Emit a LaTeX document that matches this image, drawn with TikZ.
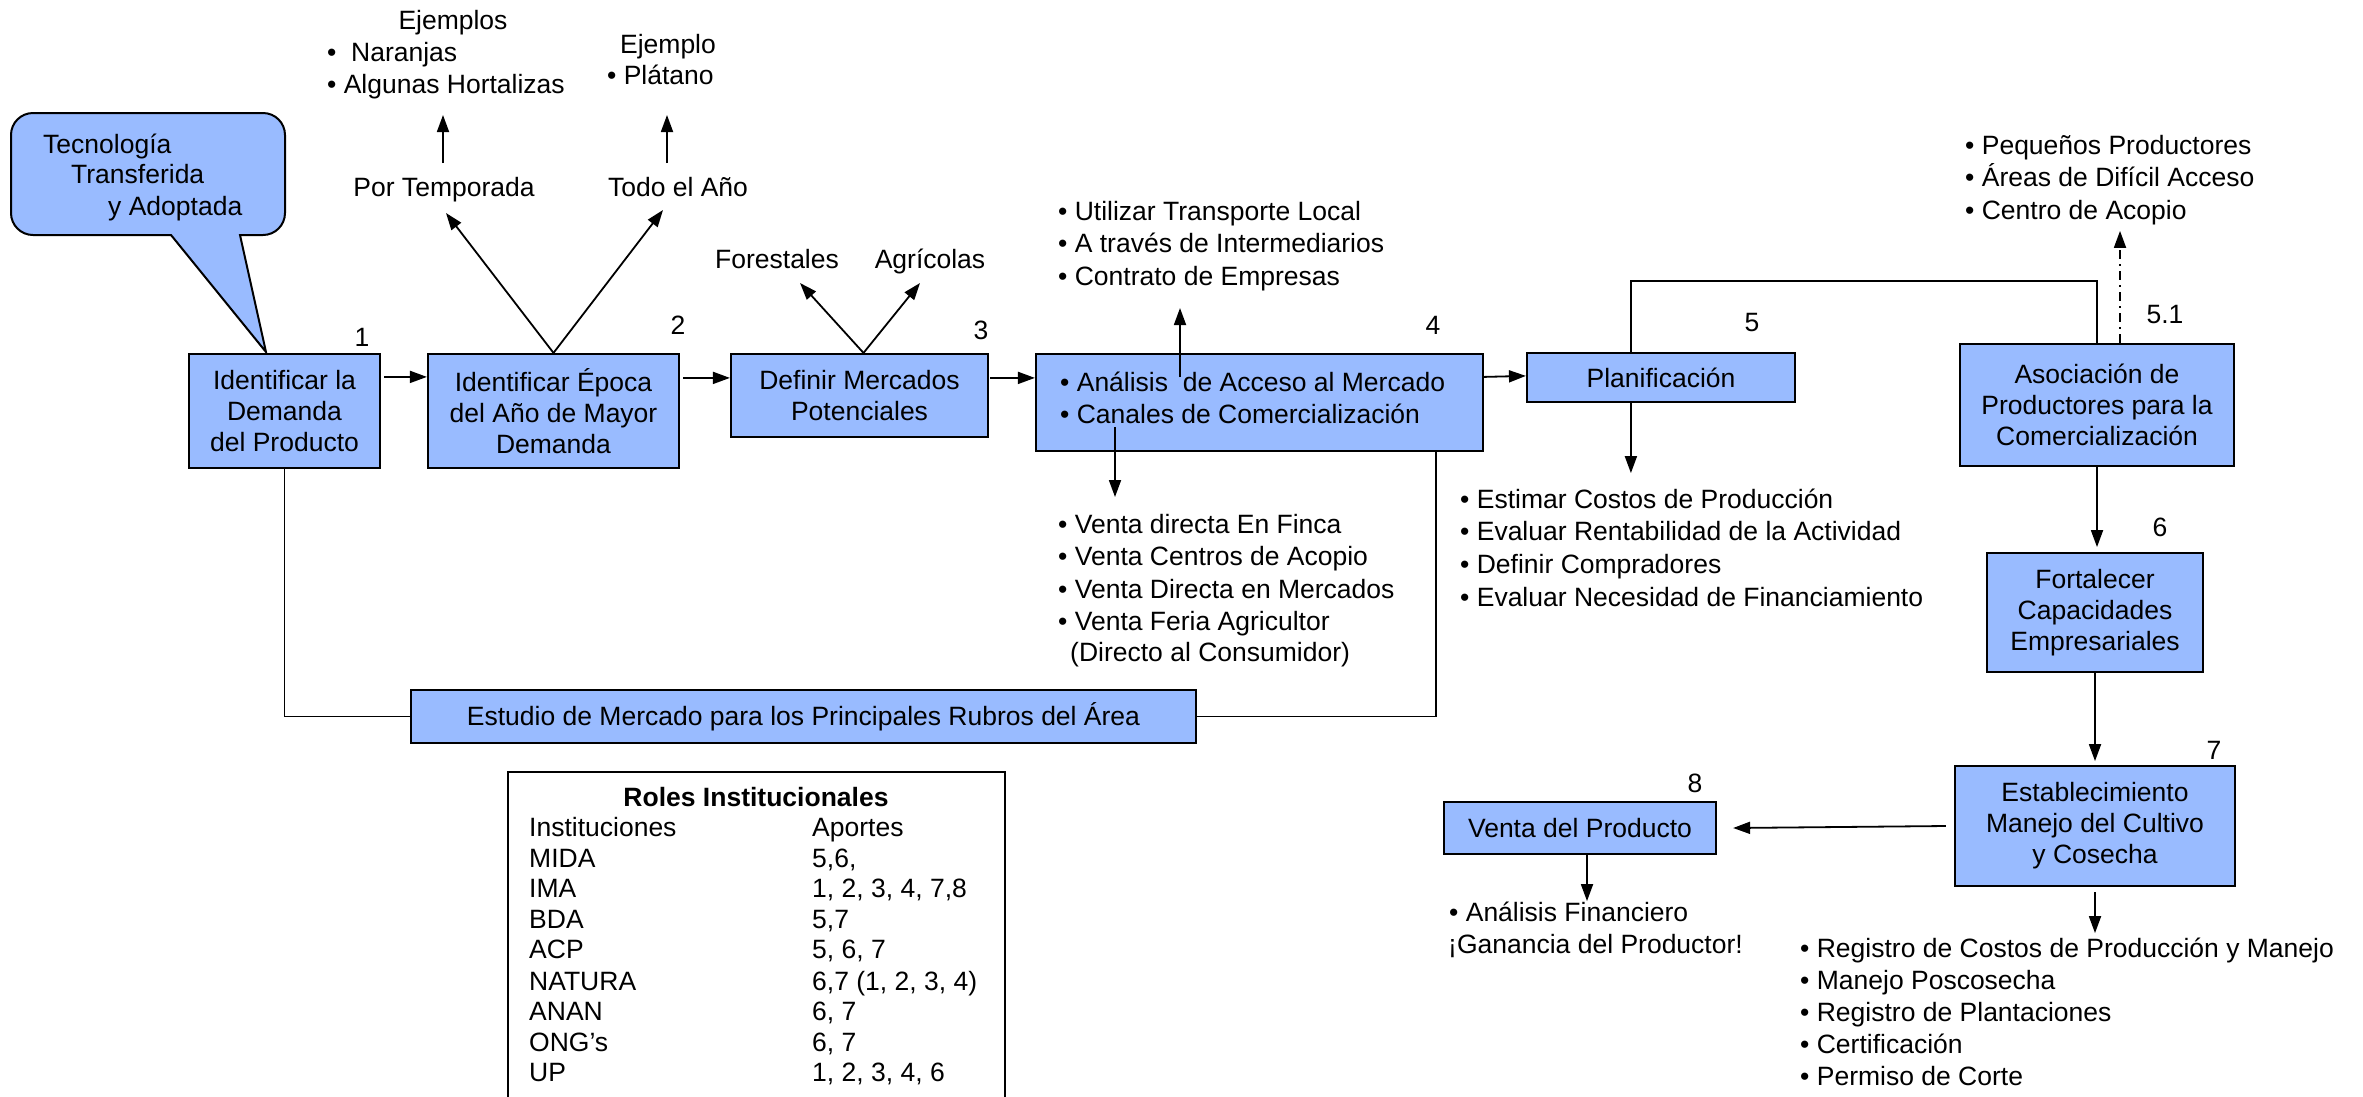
\documentclass[tikz,border=0pt]{standalone}
\usepackage{fontspec}
\setmainfont{Liberation Sans}
\usetikzlibrary{arrows.meta,fit}
\definecolor{boxblue}{RGB}{153,187,255}
\newcommand{\diafont}{\fontsize{26.5}{31}\selectfont}
\tikzset{
  box/.style={draw=black, fill=boxblue, line width=2.2pt, inner sep=0pt},
  txt/.style={inner sep=0pt, font=\diafont},
  boxtext/.style={txt, align=center},
  lnk/.style={line width=1.8pt},
  arr/.style={lnk, -{Triangle[length=17pt,width=12pt]}},
  dashdot line/.style={dash pattern=on 9pt off 5pt on 2pt off 5pt},
}
% bullet list: name, x, first baseline, line step, items
\newcommand{\blist}[5]{\foreach \itm [count=\i from 0] in {#5}
  {\node[txt, anchor=base west] (#1\i) at (#2,{#3+\i*#4}) {\itm};}}
\begin{document}
\begin{tikzpicture}[x=1pt,y=-1pt]
\useasboundingbox (0,0) rectangle (2363,1096);
\fill[white] (0,0) rectangle (2363,1096);

% speech bubble
\filldraw[fill=boxblue, draw=black, line width=2pt]
  (266,352) -- (240,235) -- (250,235) [rounded corners=22pt] -- (285,235) -- (285,113)
  -- (11,113) -- (11,235) -- (100,235) [sharp corners] -- (171,235) -- cycle;
\node[txt, anchor=base west] (cb1) at (43,153) {Tecnología};
\node[txt, anchor=base west] (cb2) at (71,183) {Transferida};
\node[txt, anchor=base west] (cb3) at (108,215) {y Adoptada};

% process boxes
\node[box, fit={(189,354) (380,468)}] (b1) {};
\node[boxtext] (b1t) at (b1.center) {Identificar la\\Demanda\\del Producto};
\node[box, fit={(428,354) (679,468)}] (b2) {};
\node[boxtext] (b2t) at (b2.center) {Identificar Época\\del Año de Mayor\\Demanda};
\node[box, fit={(731,354) (988,437)}] (b3) {};
\node[boxtext] (b3t) at (b3.center) {Definir Mercados\\Potenciales};
\node[box, fit={(1036,354) (1483,451)}] (b4) {};
\node[txt, anchor=base west] (b4a) at (1060,391) {• Análisis\ \ de Acceso al Mercado};
\node[txt, anchor=base west] (b4b) at (1060,423) {• Canales de Comercialización};
\node[box, fit={(1527,353) (1795,402)}] (b5) {};
\node[boxtext] (b5t) at (b5.center) {Planificación};
\node[box, fit={(1960,344) (2234,466)}] (b51) {};
\node[boxtext] (b51t) at (b51.center) {Asociación de\\Productores para la\\Comercialización};
\node[box, fit={(1987,553) (2203,672)}] (b6) {};
\node[boxtext] (b6t) at (b6.center) {Fortalecer\\Capacidades\\Empresariales};
\node[box, fit={(1955,766) (2235,886)}] (b7) {};
\node[boxtext] (b7t) at (b7.center) {Establecimiento\\Manejo del Cultivo\\y Cosecha};
\node[box, fit={(1444,802) (1716,854)}] (b8) {};
\node[boxtext] (b8t) at (b8.center) {Venta del Producto};
\node[box, fit={(411,690) (1196,743)}] (bE) {};
\node[boxtext] (bEt) at (bE.center) {Estudio de Mercado para los Principales Rubros del Área};

% step numbers
\node[txt] (n1) at (362,337) {1};
\node[txt] (n2) at (678,325) {2};
\node[txt] (n3) at (981,330) {3};
\node[txt] (n4) at (1433,325) {4};
\node[txt] (n5) at (1752,323) {5};
\node[txt] (n51) at (2165,315) {5.1};
\node[txt] (n6) at (2160,527) {6};
\node[txt] (n7) at (2214,750) {7};
\node[txt] (n8) at (1695,783) {8};

% side notes
\node[txt, anchor=base] (tPor) at (444,196) {Por Temporada};
\node[txt, anchor=base] (tTodo) at (678,196) {Todo el Año};
\node[txt, anchor=base] (tEjs) at (453,29) {Ejemplos};
\node[txt, anchor=base west] (tNar) at (327,61) {•\ \ Naranjas};
\node[txt, anchor=base west] (tHor) at (327,93) {• Algunas Hortalizas};
\node[txt, anchor=base] (tEj) at (668,53) {Ejemplo};
\node[txt, anchor=base west] (tPla) at (607,84) {• Plátano};
\node[txt, anchor=base] (tFor) at (777,268) {Forestales};
\node[txt, anchor=base] (tAgr) at (930,268) {Agrícolas};
\blist{lu}{1058}{220}{32.5}{• Utilizar Transporte Local, • A través de Intermediarios, • Contrato de Empresas}
\blist{lv}{1058}{533}{32.5}{• Venta directa En Finca, • Venta Centros de Acopio, • Venta Directa en Mercados, • Venta Feria Agricultor}
\node[txt, anchor=base west] (lv4) at (1070,661) {(Directo al Consumidor)};
\blist{lp}{1460}{508}{32.7}{• Estimar Costos de Producción, • Evaluar Rentabilidad de la Actividad, • Definir Compradores, • Evaluar Necesidad de Financiamiento}
\blist{la}{1965}{154}{32.5}{• Pequeños Productores, • Áreas de Difícil Acceso, • Centro de Acopio}
\blist{lc}{1800}{957}{32.2}{• Registro de Costos de Producción y Manejo, • Manejo Poscosecha, • Registro de Plantaciones, • Certificación, • Permiso de Corte}
\node[txt, anchor=base west] (lf0) at (1449,921) {• Análisis Financiero};
\node[txt, anchor=base west] (lf1) at (1448,953) {¡Ganancia del Productor!};

% institutional roles table
\node[draw, line width=2pt, inner sep=0pt, fit={(508,772) (1005,1120)}] (tbl) {};
\node[txt, anchor=base, font=\diafont\bfseries] (tblT) at (756,806) {Roles Institucionales};
\node[txt, anchor=base west] (r0a) at (529,836) {Instituciones};
\node[txt, anchor=base west] (r0b) at (812,836) {Aportes};
\node[txt, anchor=base west] (r1a) at (529,867) {MIDA};
\node[txt, anchor=base west] (r1b) at (812,867) {5,6,};
\node[txt, anchor=base west] (r2a) at (529,897) {IMA};
\node[txt, anchor=base west] (r2b) at (812,897) {1, 2, 3, 4, 7,8};
\node[txt, anchor=base west] (r3a) at (529,928) {BDA};
\node[txt, anchor=base west] (r3b) at (812,928) {5,7};
\node[txt, anchor=base west] (r4a) at (529,958) {ACP};
\node[txt, anchor=base west] (r4b) at (812,958) {5, 6, 7};
\node[txt, anchor=base west] (r5a) at (529,990) {NATURA};
\node[txt, anchor=base west] (r5b) at (812,990) {6,7 (1, 2, 3, 4)};
\node[txt, anchor=base west] (r6a) at (529,1020) {ANAN};
\node[txt, anchor=base west] (r6b) at (812,1020) {6, 7};
\node[txt, anchor=base west] (r7a) at (529,1051) {ONG’s};
\node[txt, anchor=base west] (r7b) at (812,1051) {6, 7};
\node[txt, anchor=base west] (r8a) at (529,1081) {UP};
\node[txt, anchor=base west] (r8b) at (812,1081) {1, 2, 3, 4, 6};

% free ends of the branch arrows
\coordinate (porTip) at (446,213);
\coordinate (todoTip) at (663,210);
\coordinate (porUp0) at (443,163);
\coordinate (porUp1) at (443,115);
\coordinate (todoUp0) at (667,163);
\coordinate (todoUp1) at (667,115);
\coordinate (forTip) at (800,283);
\coordinate (agrTip) at (920,283);
\coordinate (b4Up0) at (1180,377);
\coordinate (b4Up1) at (1180,308);
\coordinate (b4Dn0) at (1115,427);
\coordinate (b4Dn1) at (1115,497);

% main flow
\draw[arr] ([xshift=3pt,yshift=-24pt]b1.north east) -- ([yshift=-24pt]b2.north west);
\draw[arr] ([xshift=3pt,yshift=-25pt]b2.north east) -- ([yshift=-25pt]b3.north west);
\draw[arr] ([xshift=1pt,yshift=-25pt]b3.north east) -- ([yshift=-25pt]b4.north west);
\draw[arr] ([yshift=-24pt]b4.north east) -- ([yshift=-24pt]b5.north west);

% branches
\draw[arr] (b2.north) -- (porTip);
\draw[arr] (b2.north) -- (todoTip);
\draw[arr] (porUp0) -- (porUp1);
\draw[arr] (todoUp0) -- (todoUp1);
\draw[arr] ([xshift=4pt]b3.north) -- (forTip);
\draw[arr] ([xshift=4pt]b3.north) -- (agrTip);
\draw[arr] (b4Up0) -- (b4Up1);
\draw[arr] (b4Dn0) -- (b4Dn1);

% market study loop
\draw[lnk] (b1.south) -- (b1.south |- bE.west) -- (bE.west);
\draw[lnk] ([xshift=-48pt]b4.south east) -- ([xshift=-48pt]b4.south east |- bE.east) -- (bE.east);

% planning and association
\draw[lnk] ([xshift=105pt]b5.north west) -- ++(0,-71) -| (b51.north);
\draw[arr] ([xshift=105pt]b5.south west) -- ++(0,70);
\draw[arr, dashdot line] ([xshift=23pt]b51.north) -- ++(0,-112);
\draw[arr] (b51.south) -- ++(0,80);
\draw[arr] (b6.south) -- ++(0,88);
\draw[arr] ([xshift=-8pt]b7.west) -- ([xshift=16pt]b8.east);
\draw[arr] ([yshift=-5pt]b7.south) -- ++(0,41);
\draw[arr] ([xshift=7pt]b8.south) -- ++(0,46);
\end{tikzpicture}
\end{document}
